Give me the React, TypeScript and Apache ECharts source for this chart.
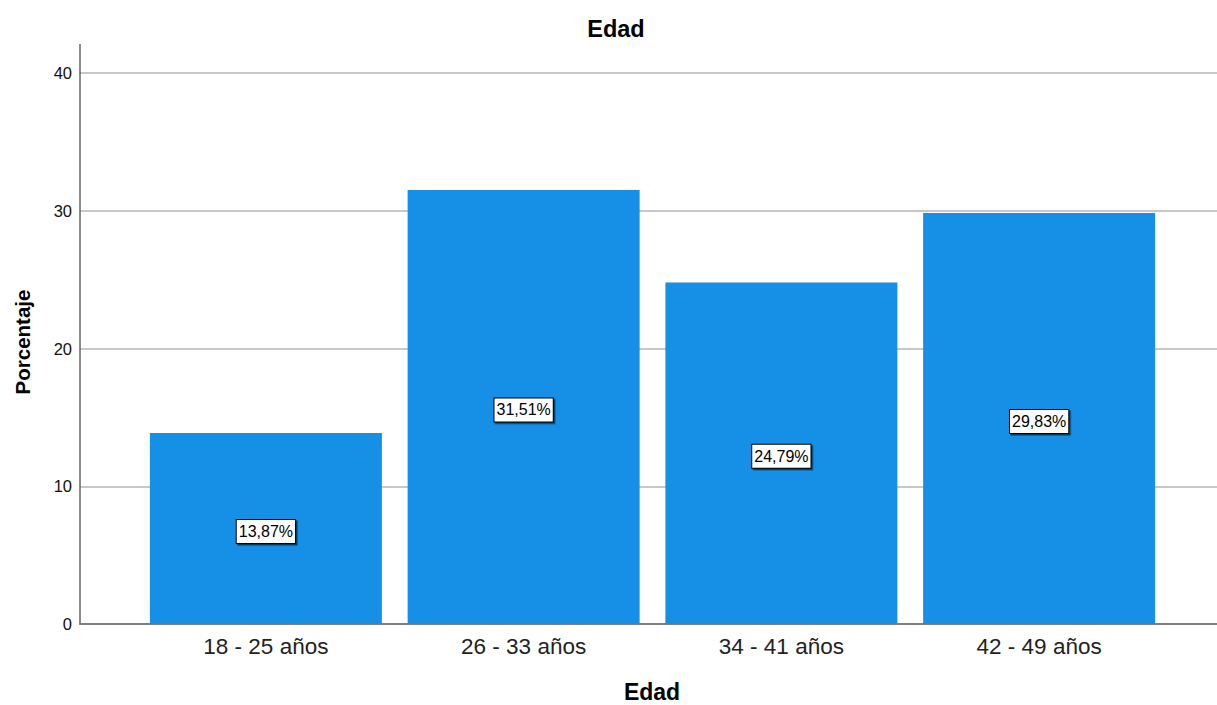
import React, { useEffect, useRef } from "react";
import * as echarts from "echarts";

const categories = ["18 - 25 años", "26 - 33 años", "34 - 41 años", "42 - 49 años"];
const percentages = [13.87, 31.51, 24.79, 29.83];
const yTicks = [0, 10, 20, 30, 40];
const chartTitle = "Edad";
const xAxisTitle = "Edad";
const yAxisTitle = "Porcentaje";

const FONT = "'Liberation Sans', Arial, Helvetica, sans-serif";

export default function App() {
  const ref = useRef<HTMLDivElement>(null);
  useEffect(() => {
    if (!ref.current) return;
    const chart = echarts.init(ref.current, null, { renderer: "svg" });
    const top = 73;
    const bottom = 81;
    chart.setOption({
      animation: false,
      backgroundColor: "#ffffff",
      textStyle: { fontFamily: FONT },
      title: {
        text: chartTitle,
        left: 611,
        top: 12,
        textAlign: "center",
        textStyle: { fontFamily: FONT, fontSize: 23.5, fontWeight: "bold", color: "#000" },
      },
      grid: [
        { left: 80, right: 0, top, bottom },
        { left: 137, right: 49, top, bottom },
      ],
      xAxis: [
        {
          gridIndex: 0,
          type: "value",
          min: 0,
          max: 1,
          axisLine: { show: true, onZero: false, lineStyle: { color: "#666", width: 1.5 } },
          axisTick: { show: false },
          axisLabel: { show: false },
          splitLine: { show: false },
        },
        {
          gridIndex: 1,
          type: "category",
          data: categories,
          axisLine: { show: false },
          axisTick: { show: false },
          axisLabel: { fontSize: 22.5, color: "#222", margin: 11, fontFamily: FONT },
        },
      ],
      yAxis: [
        {
          gridIndex: 0,
          type: "value",
          min: 0,
          max: 40,
          interval: 10,
          axisLine: { show: true, lineStyle: { color: "#666", width: 1.5 } },
          axisTick: { show: false },
          axisLabel: {
            fontSize: 16.5,
            color: "#111",
            margin: 8,
            formatter: (v: number) => (yTicks.includes(v) ? String(v) : ""),
          },
          splitLine: { show: true, lineStyle: { color: "#c8c8c8", width: 2 } },
        },
        {
          gridIndex: 1,
          type: "value",
          min: 0,
          max: 40,
          show: false,
          splitLine: { show: false },
        },
      ],
      graphic: [
        {
          type: "line",
          shape: { x1: 80, y1: 44, x2: 80, y2: top },
          style: { stroke: "#666", lineWidth: 1.5 },
          z: 10,
        },
        {
          type: "text",
          x: 652,
          y: 692,
          style: {
            text: xAxisTitle,
            fontFamily: FONT,
            fontSize: 23,
            fontWeight: "bold",
            fill: "#000",
            align: "center",
            verticalAlign: "middle",
          },
        },
        {
          type: "text",
          x: 22,
          y: 342,
          rotation: Math.PI / 2,
          style: {
            text: yAxisTitle,
            fontFamily: FONT,
            fontSize: 20.5,
            fontWeight: "bold",
            fill: "#000",
            align: "center",
            verticalAlign: "middle",
          },
        },
      ],
      series: [
        {
          type: "bar",
          xAxisIndex: 1,
          yAxisIndex: 1,
          data: percentages,
          barWidth: 232,
          itemStyle: { color: "#1590e6" },
          label: {
            show: true,
            position: "inside",
            offset: [0, 3],
            formatter: (p: any) => p.value.toFixed(2).replace(".", ",") + "%",
            fontFamily: FONT,
            fontSize: 16,
            color: "#000",
            backgroundColor: "#fff",
            borderColor: "#000",
            borderWidth: 1,
            padding: [4, 2, 3, 2],
            shadowColor: "rgba(0,0,0,0.6)",
            shadowOffsetX: 1.5,
            shadowOffsetY: 1.5,
            shadowBlur: 0,
          },
        },
      ],
    });
    return () => chart.dispose();
  }, []);
  return (
    <div
      ref={ref}
      style={{ position: "fixed", left: 0, top: 0, width: 1217, height: 705 }}
    />
  );
}
